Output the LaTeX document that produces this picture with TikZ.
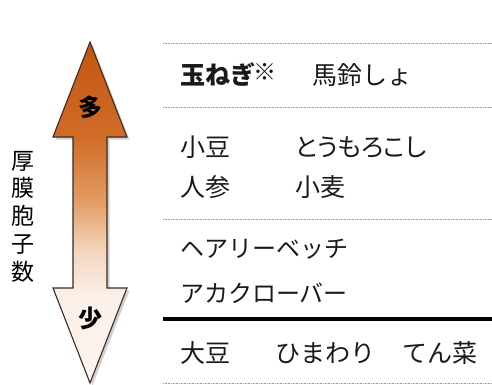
\documentclass[tikz,border=0pt]{standalone}
\usepackage{fontspec}
\newfontfamily\jp{Noto Sans CJK JP}
\newfontfamily\jpp[RawFeature=+palt]{Noto Sans CJK JP}
\definecolor{ahead}{HTML}{C25510}
\definecolor{aupper}{HTML}{D16C28}
\definecolor{amid}{HTML}{E29A62}
\definecolor{alight}{HTML}{F3D5BD}
\definecolor{apale}{HTML}{FAF0E8}
\definecolor{awhite}{HTML}{FEFCFA}
\definecolor{aline}{HTML}{3A2A20}
\definecolor{dotgray}{HTML}{9A9A9A}
\pgfdeclareverticalshading{arrowgrad}{100bp}{color(0bp)=(awhite); color(38bp)=(apale); color(44.5bp)=(alight); color(52bp)=(amid); color(61bp)=(aupper); color(75bp)=(ahead); color(100bp)=(ahead)}
\tikzset{
  jtext/.style={anchor=west, inner sep=0pt, text height=20.7pt, text depth=1.8pt, font=\jp\fontsize{25}{25}\selectfont, text=black!90},
  jbold/.style={jtext, font=\jp\bfseries\fontsize{25}{25}\selectfont},
  sepdot/.style={draw=dotgray, line width=0.8pt, dash pattern=on 0.8pt off 0.8pt},
  septhick/.style={draw=black, line width=3.2pt},
  arrowmark/.style={inner sep=0pt, font=\jp\bfseries\fontsize{24}{24}\selectfont, text=black}
}
\begin{document}
\begin{tikzpicture}[x=1pt,y=-1pt]
\useasboundingbox (0,0) rectangle (492,385);
% shadow of the arrow
\fill[black, opacity=0.18, shift={(2.5,2.5)}]
  (90,42) -- (127,137) -- (107,137) -- (107,288) -- (127,288) -- (90,383)
  -- (53,288) -- (73,288) -- (73,137) -- (53,137) -- cycle;
% the double arrow
\path[shading=arrowgrad, draw=aline, line width=1.1pt, line join=miter]
  (90,42) -- (127,137) -- (107,137) -- (107,288) -- (127,288) -- (90,383)
  -- (53,288) -- (73,288) -- (73,137) -- (53,137) -- cycle;
\node[arrowmark] (many) at (90,107) {多};
\node[arrowmark] (few) at (90,318) {少};
% vertical label
\node[inner sep=0pt, align=center, font=\jp\fontsize{23}{27.75}\selectfont] (lbl) at (23,216.5) {厚\\膜\\胞\\子\\数};
% separators
\coordinate (l0a) at (163,43);  \coordinate (l0b) at (492,43);
\coordinate (l1a) at (163,107); \coordinate (l1b) at (492,107);
\coordinate (l2a) at (163,219); \coordinate (l2b) at (492,219);
\coordinate (l3a) at (163,319); \coordinate (l3b) at (492,319);
\coordinate (l4a) at (163,383); \coordinate (l4b) at (492,383);
\draw[sepdot] (l0a) -- (l0b);
\draw[sepdot] (l1a) -- (l1b);
\draw[sepdot] (l2a) -- (l2b);
\draw[septhick] (l3a) -- (l3b);
\draw[sepdot] (l4a) -- (l4b);
% rows
\node[jbold] (onion) at (180,75) {玉ねぎ\kern-2pt\raisebox{4pt}{\mdseries\fontsize{23}{23}\selectfont ※}};
\node[jtext] (potato) at (312,75) {馬鈴しょ};
\node[jtext] (azuki) at (180,147) {小豆};
\node[jtext, font=\jpp\fontsize{25}{25}\selectfont] (corn) at (295,147) {とうもろこし};
\node[jtext] (carrot) at (180,187) {人参};
\node[jtext] (wheat) at (295,187) {小麦};
\node[jtext, font=\jp\fontsize{24}{24}\selectfont] (vetch) at (180,248) {ヘアリーベッチ};
\node[jtext, font=\jp\fontsize{24}{24}\selectfont] (clover) at (180,293) {アカクローバー};
\node[jtext] (soy) at (180,353) {大豆};
\node[jtext] (sunflower) at (275,353) {ひまわり};
\node[jtext] (beet) at (402,353) {てん菜};
\end{tikzpicture}
\end{document}
